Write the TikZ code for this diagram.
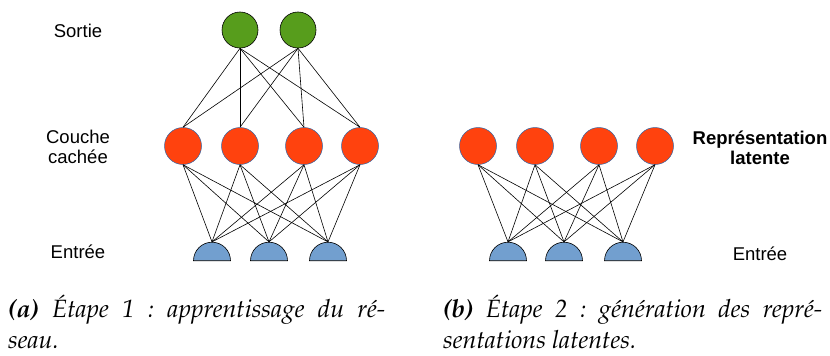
\documentclass[tikz,border=0pt]{standalone}
\usepackage[T1]{fontenc}
\usepackage{fontspec}
\setsansfont{Liberation Sans}
\usepackage{tikz}
\usetikzlibrary{shapes.geometric,positioning}
\definecolor{vert}{HTML}{579D1C}
\definecolor{rouge}{HTML}{FF420E}
\definecolor{bleu}{HTML}{729FCF}
\definecolor{bord}{HTML}{3465A4}
\newcommand{\legende}{\fontencoding{T1}\fontfamily{ppl}\fontseries{m}\fontshape{it}\fontsize{25}{31}\selectfont\frenchspacing}

\begin{document}
\begin{tikzpicture}[x=1pt,y=-1pt,
  sortie/.style={circle,draw=black,fill=vert,minimum size=36pt,inner sep=0pt,line width=0.6pt},
  cachee/.style={circle,draw=bord,fill=rouge,minimum size=37pt,inner sep=0pt,line width=0.5pt},
  entree/.style={semicircle,draw=black,fill=bleu,minimum width=37pt,inner sep=0pt,anchor=chord center,line width=0.6pt},
  etiq/.style={font=\sffamily\fontsize{18.5}{20}\selectfont,align=center},
  lien/.style={line width=0.6pt}]
\useasboundingbox (0,0) rectangle (830,356);
% etape 1
\node[sortie] (s1) at (240,30) {};
\node[sortie] (s2) at (298,30) {};
\node[cachee] (c1) at (183,146) {};
\node[cachee] (c2) at (240,146) {};
\node[cachee] (c3) at (304,146) {};
\node[cachee] (c4) at (360,146) {};
\node[entree] (e1) at (212,261) {};
\node[entree] (e2) at (269,261) {};
\node[entree] (e3) at (328,261) {};

\path[lien] (s1.south) edge (c1.north) edge (c2.north) edge (c3.north) edge (c4.north)
        (s2.south) edge (c1.north) edge (c2.north) edge (c3.north) edge (c4.north);
\path[lien] (c1.south) edge (e1.apex) edge (e2.apex) edge (e3.apex)
        (c2.south) edge (e1.apex) edge (e2.apex) edge (e3.apex)
        (c3.south) edge (e1.apex) edge (e2.apex) edge (e3.apex)
        (c4.south) edge (e1.apex) edge (e2.apex) edge (e3.apex);

\node[etiq] (lsortie) at (78,31) {Sortie};
\node[etiq] (lcachee) at (78,147) {Couche\\cachée};
\node[etiq] (lentree) at (78,252) {Entrée};

% etape 2
\node[cachee] (r1) at (478,146) {};
\node[cachee] (r2) at (535,146) {};
\node[cachee] (r3) at (599,146) {};
\node[cachee] (r4) at (655,146) {};
\node[entree] (f1) at (508,261) {};
\node[entree] (f2) at (564,261) {};
\node[entree] (f3) at (623,261) {};

\path[lien] (r1.south) edge (f1.apex) edge (f2.apex) edge (f3.apex)
        (r2.south) edge (f1.apex) edge (f2.apex) edge (f3.apex)
        (r3.south) edge (f1.apex) edge (f2.apex) edge (f3.apex)
        (r4.south) edge (f1.apex) edge (f2.apex) edge (f3.apex);

\node[etiq,font=\sffamily\bfseries\fontsize{18.5}{20}\selectfont] (lrepr) at (760,148) {Représentation\\latente};
\node[etiq] (lentree2) at (760,254) {Entrée};

% legendes
\node[font=\legende,text width=377pt,align=justify,inner sep=0pt,anchor=base west] (capa) at (8,317)
  {\textbf{(a)} \'Etape 1 : apprentissage du r\'e-\linebreak seau.};
\node[font=\legende,text width=379pt,align=justify,inner sep=0pt,anchor=base west] (capb) at (443,317)
  {\textbf{(b)} \'Etape 2 : g\'en\'eration des repr\'e-\linebreak sentations latentes.};
\end{tikzpicture}
\end{document}
